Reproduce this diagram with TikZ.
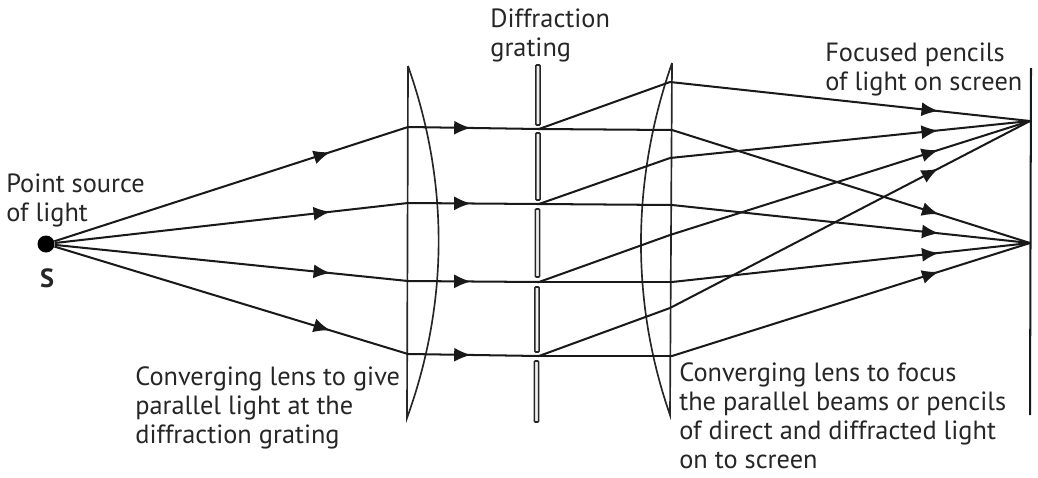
\documentclass[tikz,border=0pt]{standalone}
\usepackage{fontspec}
\setmainfont{PT Sans}
\usetikzlibrary{arrows.meta,decorations.markings}
\tikzset{
  ray/.style={line width=1.15pt,color=black!90,postaction={decorate},
    decoration={markings,mark=at position #1 with {\arrow{Latex[length=9.5pt,width=8pt]}}}},
  plainray/.style={line width=1.15pt,color=black!90},
  lens/.style={line width=.95pt,color=black!85},
  slitbar/.style={draw=black!85,fill=black!6,line width=.9pt,rounded corners=.5pt},
  note/.style={align=left,inner sep=0pt,font=\fontsize{15pt}{16.5pt}\selectfont,color=black!85},
}
\begin{document}
\begin{tikzpicture}[x=.02cm,y=-.02cm]
  \useasboundingbox (0,0) rectangle (1038,477);
  % points on the first lens, the grating and the second lens
  \foreach \n/\ya/\yb/\yc/\yd in {1/127/129/130/82, 2/203/204/205/158, 3/281/282/282/235, 4/354/356/356/308}{
    \coordinate (la\n) at (408,\ya);
    \coordinate (sl\n) at (539,\yb);
    \coordinate (lb\n) at (672,\yc);
    \coordinate (ld\n) at (670,\yd);
  }
  \coordinate (fa) at (1030,121);
  \coordinate (fb) at (1030,243);
  \node[circle,fill=black,inner sep=0pt,minimum size=3.4mm] (src) at (46,244) {};
  % lenses
  \coordinate (lat) at (408,66);
  \coordinate (lab) at (407,418);
  \coordinate (lct) at (672,63);
  \coordinate (lcb) at (670,415);
  \draw[lens] (lat) -- (lab) .. controls (449,302) and (449,182) .. (lat);
  \draw[lens] (lct) -- (lcb) .. controls (630,300) and (632,178) .. (lct);
  % grating
  \foreach \n/\xc/\ya/\yb in {1/538/65/125, 2/538/133/200, 3/537.5/209/277, 4/537/287/352, 5/536.5/361/422}
    \node[slitbar,inner sep=0pt,minimum width=.085cm,minimum height={(\yb-\ya)*.02cm}] (bar\n) at (\xc,{(\ya+\yb)/2}) {};
  % screen
  \coordinate (sct) at (1031,68);
  \coordinate (scb) at (1030,415);
  \draw[plainray] (sct) -- (scb);
  % rays
  \foreach \n in {1,...,4}{
    \draw[ray=.78] (src) -- (la\n);
    \draw[ray=.48] (la\n) -- (sl\n);
    \draw[plainray] (sl\n) -- (lb\n);
    \draw[plainray] (sl\n) -- (ld\n);
    \draw[ray=.745] (lb\n) -- (fb);
    \draw[ray=.745] (ld\n) -- (fa);
  }
  % labels
  \node[note,anchor=north west] (lblgrat) at (490,8.5) {Diffraction\\grating};
  \node[note,anchor=north west] (lblfoc) at (825,42) {Focused pencils\\of light on screen};
  \node[note,anchor=north west] (lblsrc) at (6,173) {Point source\\of light};
  \node[note,font=\fontsize{15pt}{16pt}\selectfont\bfseries] (lbls) at (47,278) {S};
  \node[note,anchor=north west] (lblconv) at (135,366.5) {Converging lens to give\\parallel light at the\\diffraction grating};
  \node[note,anchor=north west] (lblfocus) at (679,362) {Converging lens to focus\\the parallel beams or pencils\\of direct and diffracted light\\on to screen};
\end{tikzpicture}
\end{document}
